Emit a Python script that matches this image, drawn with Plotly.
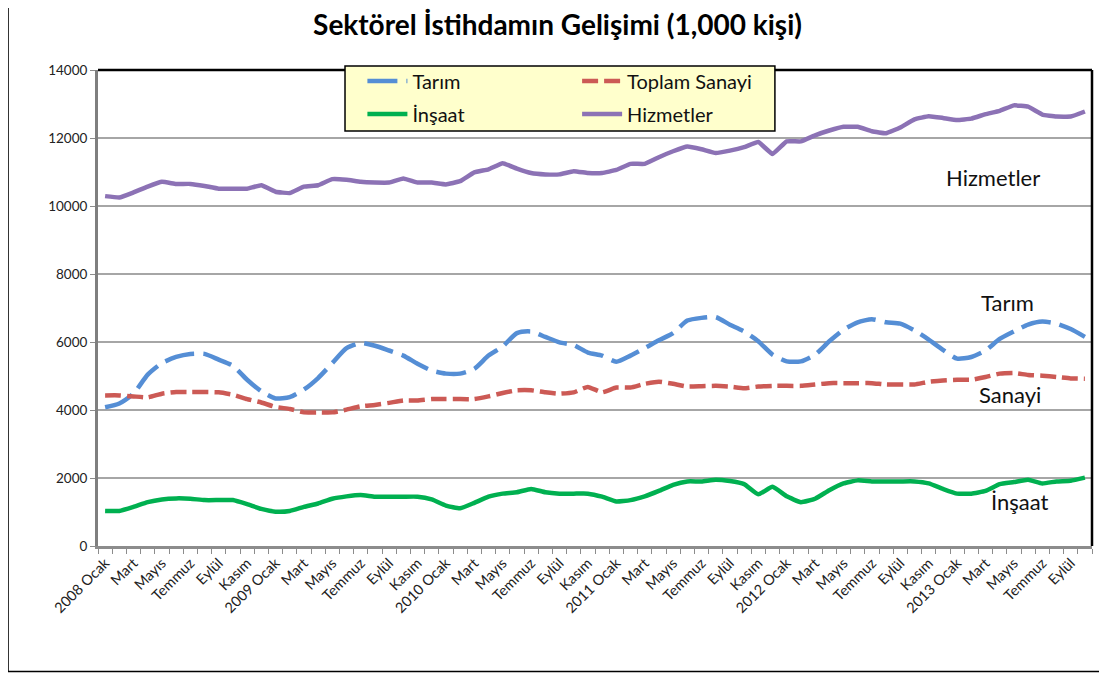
import plotly.graph_objects as go

# month names (Turkish) and the 70 monthly periods Jan 2008 - Oct 2013
month_names = ["Ocak", "Şubat", "Mart", "Nisan", "Mayıs", "Haziran", "Temmuz",
               "Ağustos", "Eylül", "Ekim", "Kasım", "Aralık"]
periods = []
for year in range(2008, 2014):
    for m in month_names:
        periods.append(f"{year} {m}" if m == "Ocak" else m)
periods = periods[:70]

tarim = [4080, 4190, 4480, 5040, 5380, 5560, 5650, 5650, 5480, 5300, 4890, 4550,
         4340, 4380, 4600, 4940, 5380, 5820, 5970, 5890, 5750, 5600, 5360, 5160,
         5070, 5070, 5210, 5600, 5870, 6260, 6310, 6150, 5990, 5910, 5690, 5600,
         5420, 5600, 5820, 6050, 6260, 6630, 6710, 6730, 6510, 6310, 6020, 5630,
         5430, 5430, 5630, 6020, 6360, 6580, 6670, 6580, 6540, 6340, 6070, 5770,
         5510, 5560, 5750, 6090, 6310, 6510, 6600, 6540, 6380, 6150]

sanayi = [4430, 4430, 4400, 4370, 4480, 4530, 4530, 4530, 4520, 4450, 4320, 4220,
          4090, 4030, 3930, 3930, 3930, 4010, 4110, 4150, 4210, 4280, 4280, 4320,
          4320, 4320, 4320, 4400, 4500, 4580, 4580, 4520, 4480, 4520, 4680, 4520,
          4660, 4660, 4770, 4830, 4770, 4690, 4700, 4710, 4690, 4640, 4690, 4710,
          4710, 4710, 4750, 4790, 4790, 4790, 4790, 4750, 4750, 4750, 4830, 4870,
          4890, 4890, 4970, 5070, 5090, 5030, 5010, 4970, 4930, 4920]

insaat = [1030, 1030, 1150, 1290, 1370, 1400, 1390, 1350, 1350, 1350, 1230, 1090,
          1010, 1030, 1150, 1250, 1390, 1460, 1500, 1450, 1450, 1450, 1450, 1370,
          1190, 1110, 1270, 1450, 1540, 1580, 1680, 1580, 1540, 1540, 1540, 1450,
          1310, 1350, 1460, 1620, 1800, 1900, 1900, 1950, 1910, 1820, 1520, 1740,
          1460, 1290, 1390, 1640, 1840, 1930, 1900, 1900, 1900, 1900, 1840, 1680,
          1540, 1540, 1620, 1820, 1880, 1950, 1840, 1900, 1920, 2010]

hizmetler = [10290, 10250, 10400, 10570, 10710, 10650, 10650, 10590, 10510, 10510,
             10510, 10610, 10420, 10380, 10570, 10610, 10790, 10770, 10710, 10690,
             10690, 10810, 10690, 10690, 10635, 10730, 10990, 11080, 11260, 11100,
             10970, 10930, 10930, 11025, 10970, 10970, 11060, 11240, 11240, 11435,
             11610, 11750, 11670, 11560, 11630, 11730, 11880, 11530, 11900, 11900,
             12080, 12220, 12330, 12330, 12200, 12140, 12310, 12550, 12640, 12590,
             12530, 12570, 12700, 12800, 12960, 12920, 12690, 12630, 12630, 12780]

FONT = "Lato, 'Open Sans', sans-serif"
x = list(range(len(periods)))

fig = go.Figure()
fig.add_trace(go.Scatter(x=x, y=tarim, name="Tarım", mode="lines", legend="legend",
                         legendgroup="a",
                         line=dict(color="#558ED5", width=4.5, dash="30px,9px",
                                   shape="spline", smoothing=0.6)))
fig.add_trace(go.Scatter(x=x, y=sanayi, name="Toplam Sanayi", mode="lines", legend="legend2",
                         legendgroup="b",
                         line=dict(color="#CC5A55", width=4.5, dash="16px,6px",
                                   shape="spline", smoothing=0.4)))
fig.add_trace(go.Scatter(x=x, y=insaat, name="İnşaat", mode="lines", legend="legend",
                         legendgroup="c",
                         line=dict(color="#00B050", width=4.5, shape="spline", smoothing=0.4)))
fig.add_trace(go.Scatter(x=x, y=hizmetler, name="Hizmetler", mode="lines", legend="legend2",
                         legendgroup="d",
                         line=dict(color="#8C72B5", width=4.5, shape="spline", smoothing=0.3)))

# labels inside the plot
for txt, xi, yv in [("Hizmetler", 62.5, 10850), ("Tarım", 63.55, 7150),
                    ("Sanayi", 63.7, 4450), ("İnşaat", 64.4, 1300)]:
    fig.add_annotation(x=xi, y=yv, text=txt, showarrow=False,
                       font=dict(family=FONT, size=22, color="#111"))

legend_style = dict(bgcolor="rgba(0,0,0,0)", font=dict(family=FONT, size=20, color="#111"),
                    yanchor="top", xanchor="left", y=1.018, tracegroupgap=4,
                    itemwidth=40)

# page body adds an 8px offset, so the figure is sized/margined to compensate
fig.update_layout(
    width=1099, height=667,
    paper_bgcolor="white", plot_bgcolor="white",
    margin=dict(l=90, r=15, t=62, b=128.5),
    title=dict(text="<b>Sektörel İstihdamın Gelişimi (1,000 kişi)</b>", x=0.5, xanchor="center",
               y=0.974, yanchor="middle", font=dict(family=FONT, size=28, color="black")),
    legend=dict(x=0.266, **legend_style),
    legend2=dict(x=0.482, **legend_style),
    shapes=[
        # legend box
        dict(type="rect", xref="paper", yref="paper", x0=0.2485, x1=0.681, y0=0.872, y1=1.0084,
             fillcolor="#FFFFCC", line=dict(color="black", width=1.5), layer="above"),
        # plot area top and right border
        dict(type="line", xref="paper", yref="paper", x0=0, x1=1, y0=1, y1=1,
             line=dict(color="black", width=2.5), layer="below"),
        dict(type="line", xref="paper", yref="paper", x0=1, x1=1, y0=0, y1=1,
             line=dict(color="black", width=2.5)),
        # chart frame
        dict(type="rect", xref="paper", yref="paper", x0=-0.0905, x1=1.011, y0=-0.2634, y1=1.1448,
             line=dict(color="black", width=1.5)),
    ],
)

fig.update_xaxes(range=[-0.5, len(periods) - 0.5], tickmode="array", automargin=False,
                 tickvals=x[::2], ticktext=periods[::2], tickangle=-45, ticks="",
                 tickfont=dict(family=FONT, size=14.5, color="#222"),
                 showgrid=False, zeroline=False, showline=True, linecolor="#8C8C8C", linewidth=3,
                 minor=dict(tickmode="array", tickvals=[i - 0.5 for i in range(len(periods) + 1)],
                            ticks="outside", ticklen=5, tickcolor="#8C8C8C", tickwidth=1))
fig.update_yaxes(range=[0, 14000], dtick=2000, tickformat="d", automargin=False,
                 tickfont=dict(family=FONT, size=13.5, color="#222"),
                 showgrid=True, gridcolor="#A6A6A6", gridwidth=1.5, zeroline=False,
                 showline=True, linecolor="#7F7F7F", linewidth=3,
                 ticks="outside", ticklen=5, tickcolor="#8C8C8C")

fig.write_html("out.html")
